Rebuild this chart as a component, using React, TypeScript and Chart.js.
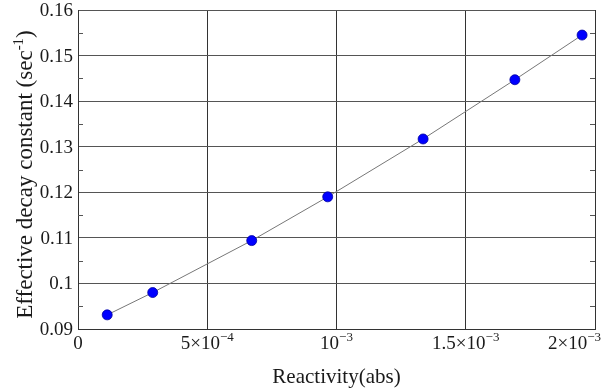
import { useEffect, useRef } from "react";
import { Chart, registerables } from "chart.js";
Chart.register(...registerables);

const reactivity = [1.13e-4, 2.89e-4, 6.72e-4, 9.66e-4, 1.335e-3, 1.69e-3, 1.95e-3];
const decayConstant = [0.0931, 0.098, 0.1094, 0.119, 0.1317, 0.1447, 0.1545];
const xTickValues = [0, 0.0005, 0.001, 0.0015, 0.002];
const xTickBases = ["0", "5×10", "10", "1.5×10", "2×10"];
const xTickExps = ["", "−4", "−3", "−3", "−3"];
const yTickValues = [0.09, 0.1, 0.11, 0.12, 0.13, 0.14, 0.15, 0.16];
const yTickLabels = ["0.09", "0.1", "0.11", "0.12", "0.13", "0.14", "0.15", "0.16"];
const yMinorTicks = [0.095, 0.105, 0.115, 0.125, 0.135, 0.145, 0.155];
const xTitle = "Reactivity(abs)";
const yTitleMain = "Effective decay constant (sec";
const yTitleSup = "-1";
const yTitleEnd = ")";

const FONT = "'Liberation Serif', 'Times New Roman', serif";

export default function App() {
  const ref = useRef<HTMLCanvasElement>(null);
  useEffect(() => {
    const decorations = {
      id: "decorations",
      afterDraw(chart: any) {
        const { ctx, chartArea, scales } = chart;
        const x = scales.x;
        const y = scales.y;
        ctx.save();
        // minor ticks on y
        ctx.strokeStyle = "#555";
        ctx.lineWidth = 1;
        ctx.beginPath();
        for (const v of yMinorTicks) {
          const py = Math.round(y.getPixelForValue(v)) + 0.5;
          ctx.moveTo(chartArea.left, py);
          ctx.lineTo(chartArea.left + 5, py);
          ctx.moveTo(chartArea.right - 5, py);
          ctx.lineTo(chartArea.right, py);
        }
        ctx.stroke();

        ctx.fillStyle = "#1a1a1a";
        // y tick labels
        ctx.font = `19px ${FONT}`;
        ctx.textAlign = "right";
        ctx.textBaseline = "middle";
        yTickValues.forEach((v, i) => {
          ctx.fillText(yTickLabels[i], chartArea.left - 5, y.getPixelForValue(v) + 1);
        });
        // x tick labels with superscripts
        ctx.textAlign = "left";
        ctx.textBaseline = "alphabetic";
        xTickValues.forEach((v, i) => {
          ctx.font = `19px ${FONT}`;
          const wb = ctx.measureText(xTickBases[i]).width;
          ctx.font = `13px ${FONT}`;
          const we = xTickExps[i] ? ctx.measureText(xTickExps[i]).width : 0;
          let start = x.getPixelForValue(v) - (wb + we) / 2;
          const maxEnd = chartArea.right + 6;
          if (start + wb + we > maxEnd) start = maxEnd - wb - we;
          ctx.font = `19px ${FONT}`;
          ctx.fillText(xTickBases[i], start, chartArea.bottom + 20);
          if (xTickExps[i]) {
            ctx.font = `13px ${FONT}`;
            ctx.fillText(xTickExps[i], start + wb, chartArea.bottom + 12);
          }
        });
        // y title rotated with superscript
        ctx.font = `23px ${FONT}`;
        const w1 = ctx.measureText(yTitleMain).width;
        const w3 = ctx.measureText(yTitleEnd).width;
        ctx.font = `15px ${FONT}`;
        const w2 = ctx.measureText(yTitleSup).width;
        const total = w1 + w2 + w3;
        const cy = (chartArea.top + chartArea.bottom) / 2 + 5;
        ctx.translate(32, cy);
        ctx.rotate(-Math.PI / 2);
        let sx = -total / 2;
        ctx.font = `23px ${FONT}`;
        ctx.fillText(yTitleMain, sx, 0);
        sx += w1;
        ctx.font = `15px ${FONT}`;
        ctx.fillText(yTitleSup, sx, -9);
        sx += w2;
        ctx.font = `23px ${FONT}`;
        ctx.fillText(yTitleEnd, sx, 0);
        ctx.restore();
      },
    };
    const chart = new Chart(ref.current as HTMLCanvasElement, {
      type: "scatter",
      data: {
        datasets: [
          {
            data: reactivity.map((x, i) => ({ x, y: decayConstant[i] })),
            showLine: true,
            borderColor: "#777",
            borderWidth: 1,
            pointRadius: 5,
            pointBackgroundColor: "#0000ff",
            pointBorderColor: "#0000a0",
            pointBorderWidth: 0.8,
          },
        ],
      },
      options: {
        responsive: false,
        animation: false,
        layout: { padding: { top: 10, right: 19, left: 0, bottom: 0 } },
        plugins: { legend: { display: false }, tooltip: { enabled: false } },
        scales: {
          x: {
            type: "linear",
            min: 0,
            max: 0.002,
            ticks: { stepSize: 0.0005, display: false },
            grid: { color: "#333", lineWidth: 1, drawTicks: false },
            border: { display: true, color: "#333", width: 1 },
            title: {
              display: true,
              text: xTitle,
              font: { family: FONT, size: 21 },
              color: "#1a1a1a",
              padding: { top: 4, bottom: 0 },
            },
            afterFit: (s: any) => {
              s.height = 61;
            },
          },
          y: {
            type: "linear",
            min: 0.09,
            max: 0.16,
            ticks: { stepSize: 0.01, display: false },
            grid: { color: "#555", lineWidth: 1, drawTicks: false },
            border: { display: true, color: "#333", width: 1 },
            title: { display: false },
            afterFit: (s: any) => {
              s.width = 78;
            },
          },
        },
      },
      plugins: [decorations],
    });
    return () => chart.destroy();
  }, []);
  return (
    <div style={{ position: "fixed", left: 0, top: 0, width: 614, height: 390, background: "#fff" }}>
      <canvas ref={ref} width={614} height={390} style={{ width: 614, height: 390 }} />
    </div>
  );
}
